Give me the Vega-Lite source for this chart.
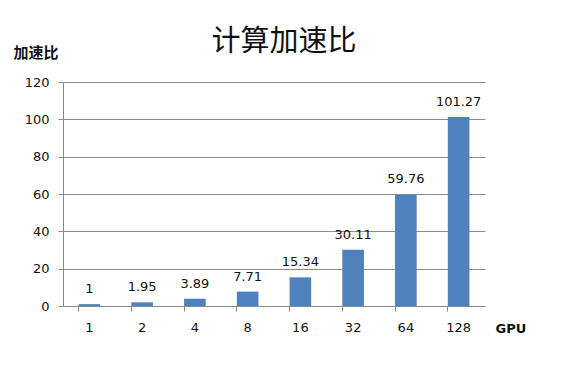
{
  "$schema": "https://vega.github.io/schema/vega-lite/v6.json",
  "autosize": {"type": "none"},
  "width": 422,
  "height": 224,
  "padding": {"left": 63, "top": 82, "right": 83, "bottom": 68},
  "background": "white",
  "title": {
    "text": "计算加速比",
    "font": "Noto Sans CJK SC",
    "fontSize": 29,
    "fontWeight": "normal",
    "color": "#111",
    "anchor": "middle",
    "dx": 10,
    "offset": -12
  },
  "data": {
    "values": [
      {"gpu": "1", "speedup": 1},
      {"gpu": "2", "speedup": 1.95},
      {"gpu": "4", "speedup": 3.89},
      {"gpu": "8", "speedup": 7.71},
      {"gpu": "16", "speedup": 15.34},
      {"gpu": "32", "speedup": 30.11},
      {"gpu": "64", "speedup": 59.76},
      {"gpu": "128", "speedup": 101.27}
    ]
  },
  "encoding": {
    "x": {
      "field": "gpu",
      "type": "ordinal",
      "sort": null,
      "scale": {"paddingInner": 0.59, "paddingOuter": 0.295},
      "axis": {
        "title": "GPU",
        "titleFont": "DejaVu Sans",
        "titleFontSize": 13,
        "titleFontWeight": "bold",
        "titleColor": "#111",
        "titleAngle": 0,
        "titleAlign": "left",
        "titleBaseline": "middle",
        "titleX": 432,
        "titleY": 22,
        "labelAngle": 0,
        "labelFont": "DejaVu Sans",
        "labelFontSize": 13,
        "labelColor": "#111",
        "labelPadding": 10,
        "bandPosition": 0,
        "tickSize": 5,
        "tickColor": "#888",
        "domainColor": "#888",
        "grid": false
      }
    },
    "y": {
      "field": "speedup",
      "type": "quantitative",
      "scale": {"domain": [0, 120]},
      "axis": {
        "title": "加速比",
        "titleFont": "Noto Sans CJK SC",
        "titleFontSize": 15,
        "titleFontWeight": "bold",
        "titleColor": "#111",
        "titleAngle": 0,
        "titleAlign": "left",
        "titleBaseline": "alphabetic",
        "titleX": -50,
        "titleY": -25,
        "values": [0, 20, 40, 60, 80, 100, 120],
        "labelFont": "DejaVu Sans",
        "labelFontSize": 13,
        "labelColor": "#111",
        "labelPadding": 9,
        "tickSize": 5,
        "tickColor": "#888",
        "domainColor": "#888",
        "gridColor": "#8c8c8c",
        "gridWidth": 1
      }
    }
  },
  "layer": [
    {"mark": {"type": "bar", "color": "#4F81BD"}},
    {
      "mark": {"type": "text", "baseline": "bottom", "dy": -8, "font": "DejaVu Sans", "fontSize": 13, "color": "#111"},
      "encoding": {"text": {"field": "speedup", "type": "quantitative"}}
    }
  ],
  "config": {"view": {"stroke": null}}
}
